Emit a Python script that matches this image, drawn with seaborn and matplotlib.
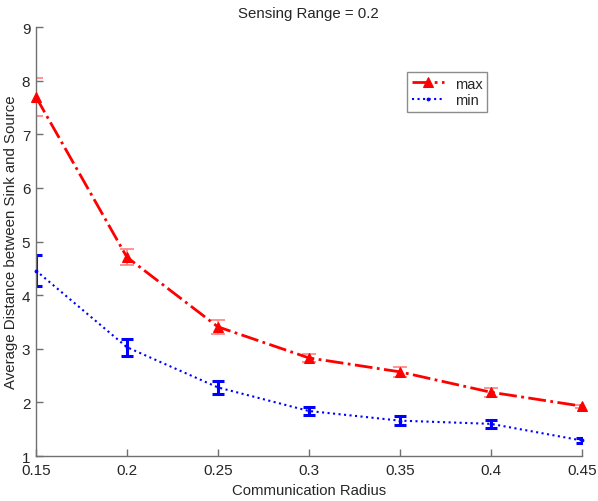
import numpy as np
import pandas as pd
import matplotlib
matplotlib.use('Agg')
import matplotlib.pyplot as plt
import seaborn as sns

# Дані
radius = [0.15, 0.2, 0.25, 0.3, 0.35, 0.4, 0.45]
max_dist = [7.70, 4.71, 3.41, 2.83, 2.57, 2.19, 1.93]
max_err = [0.36, 0.15, 0.13, 0.08, 0.09, 0.08, 0.03]
min_dist = [4.46, 3.03, 2.28, 1.84, 1.66, 1.60, 1.29]
min_err = [0.29, 0.16, 0.12, 0.08, 0.08, 0.07, 0.04]

sns.set_style('white')
plt.rcParams['font.family'] = ['Liberation Sans', 'DejaVu Sans']
plt.rcParams['xtick.bottom'] = True
plt.rcParams['ytick.left'] = True

df = pd.DataFrame({'radius': radius, 'max': max_dist, 'min': min_dist})

fig = plt.figure(figsize=(5.98, 5.02), dpi=100)
ax = fig.add_axes([0.060, 0.0896, 0.913, 0.8544])

# Похибки
ax.errorbar(radius, max_dist, yerr=max_err, fmt='none', ecolor='#ff8080',
            elinewidth=1.2, capsize=5, capthick=1.2, zorder=2)
ax.errorbar(radius, min_dist, yerr=min_err, fmt='none', ecolor='#0000ff',
            elinewidth=2.2, capsize=4, capthick=2.2, zorder=2)

sns.lineplot(data=df, x='radius', y='max', ax=ax, color='red', linestyle='-.',
             linewidth=2, marker='^', markersize=7.5, markeredgecolor='red',
             label='max', zorder=3, clip_on=False)
sns.lineplot(data=df, x='radius', y='min', ax=ax, color='blue', linestyle=':',
             linewidth=1.5, marker='.', markersize=4, markeredgecolor='blue',
             label='min', zorder=3, clip_on=False)

ax.set_xlim(0.15, 0.45)
ax.set_ylim(1, 9)
ax.set_xticks(radius)
ax.set_xticklabels(['0.15', '0.2', '0.25', '0.3', '0.35', '0.4', '0.45'])
ax.set_yticks(range(1, 10))

ax.set_xlabel('Communication Radius', fontsize=10.7, labelpad=4)
ax.set_ylabel('Average Distance between Sink and Source', fontsize=10.8, labelpad=3)
ax.set_title('Sensing Range = 0.2', fontsize=10.8, pad=7)

for s in ['top', 'right']:
    ax.spines[s].set_visible(False)
for s in ['left', 'bottom']:
    ax.spines[s].set_color('#707070')
    ax.spines[s].set_linewidth(1)
ax.tick_params(direction='in', length=5, width=1, color='#707070',
               labelsize=11)
ax.tick_params(axis='x', pad=5)
ax.tick_params(axis='y', pad=4)

leg = ax.legend(loc='upper left', bbox_to_anchor=(0.68, 0.895), frameon=True,
                fancybox=False, fontsize=10.5, handlelength=2.2, borderpad=0.3,
                labelspacing=0.2, borderaxespad=0)
leg.get_frame().set_edgecolor('#707070')
leg.get_frame().set_linewidth(1)

fig.savefig('out.png', dpi=100)
